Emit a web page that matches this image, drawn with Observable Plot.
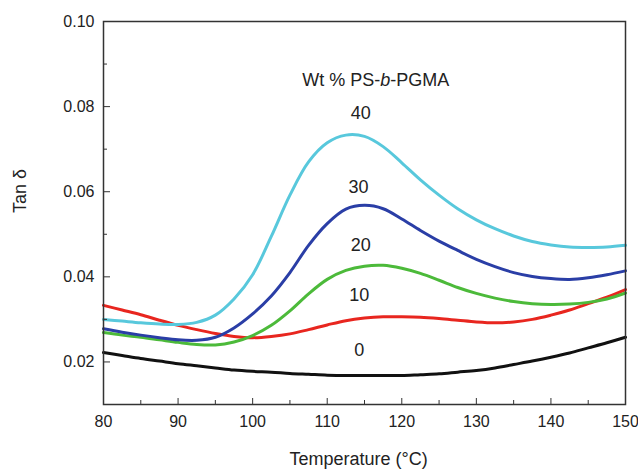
<!DOCTYPE html>
<html>
<head>
<meta charset="utf-8">
<script src="https://cdn.jsdelivr.net/npm/d3@7"></script>
<script src="https://cdn.jsdelivr.net/npm/@observablehq/plot@0.6"></script>
<style>
  html, body { margin: 0; padding: 0; background: #fff; }
  #chart { width: 638px; height: 469px; }
</style>
</head>
<body>
<div id="chart"></div>
<script>
// Temperature grid (°C)
const temps = [80, 82.5, 85, 87.5, 90, 92.5, 95, 97.5, 100, 102.5, 105, 107.5, 110, 112.5, 115, 117.5, 120, 122.5, 125, 127.5, 130, 132.5, 135, 137.5, 140, 142.5, 145, 147.5, 150];

// Tan δ for each wt% PS-b-PGMA
const tan0  = [0.0222, 0.0215, 0.0208, 0.0202, 0.0196, 0.0191, 0.0186, 0.0181, 0.0178, 0.0176, 0.0173, 0.0171, 0.0169, 0.0168, 0.0168, 0.0168, 0.0168, 0.0170, 0.0172, 0.0176, 0.0180, 0.0186, 0.0194, 0.0202, 0.0211, 0.0221, 0.0233, 0.0245, 0.0258];
const tan10 = [0.0333, 0.0322, 0.0311, 0.0298, 0.0286, 0.0276, 0.0267, 0.0260, 0.0257, 0.0260, 0.0266, 0.0276, 0.0287, 0.0297, 0.0303, 0.0306, 0.0306, 0.0305, 0.0302, 0.0298, 0.0294, 0.0292, 0.0294, 0.0300, 0.0310, 0.0322, 0.0337, 0.0352, 0.0370];
const tan20 = [0.0269, 0.0263, 0.0258, 0.0252, 0.0246, 0.0241, 0.0240, 0.0247, 0.0262, 0.0286, 0.0320, 0.0360, 0.0394, 0.0415, 0.0425, 0.0427, 0.0420, 0.0408, 0.0392, 0.0375, 0.0361, 0.0350, 0.0342, 0.0337, 0.0335, 0.0336, 0.0340, 0.0348, 0.0362];
const tan30 = [0.0278, 0.0270, 0.0263, 0.0257, 0.0252, 0.0251, 0.0258, 0.0280, 0.0313, 0.0355, 0.0410, 0.0474, 0.0525, 0.0559, 0.0568, 0.0560, 0.0536, 0.0509, 0.0484, 0.0462, 0.0441, 0.0424, 0.0410, 0.0401, 0.0396, 0.0394, 0.0398, 0.0405, 0.0414];
const tan40 = [0.0300, 0.0296, 0.0292, 0.0289, 0.0288, 0.0293, 0.0310, 0.0348, 0.0405, 0.0495, 0.0592, 0.0670, 0.0715, 0.0733, 0.0730, 0.0706, 0.0668, 0.0628, 0.0592, 0.0560, 0.0534, 0.0513, 0.0496, 0.0483, 0.0475, 0.0470, 0.0469, 0.0470, 0.0474];

const seriesNames = ["0", "10", "20", "30", "40"];
const seriesColors = ["#111111", "#e8261f", "#4cba3a", "#2a3ea6", "#58c8dc"];

// Curve labels placed on the chart (data coordinates)
const labelT = [114.3, 114.3, 114.5, 114.2, 114.5];
const labelV = [0.0227, 0.0356, 0.0474, 0.0610, 0.0784];
const legendTitle = "Wt % PS-b-PGMA";
const legendT = 116.5;
const legendV = 0.0862;

// Axis ticks
const xMajor = [80, 90, 100, 110, 120, 130, 140, 150];
const xMinor = [85, 95, 105, 115, 125, 135, 145];
const yMajor = [0.02, 0.04, 0.06, 0.08, 0.10];
const yMinor = [0.03, 0.05, 0.07, 0.09];

const xLabel = "Temperature (°C)";
const yLabel = "Tan δ";

const allSeries = [tan0, tan10, tan20, tan30, tan40];
const rows = [];
allSeries.forEach((vals, si) => {
  vals.forEach((v, i) => rows.push({T: temps[i], v, s: seriesNames[si]}));
});
const labels = seriesNames.map((s, i) => ({s, T: labelT[i], v: labelV[i]}));

const plot = Plot.plot({
  width: 638,
  height: 469,
  marginLeft: 103,
  marginRight: 13,
  marginTop: 21,
  marginBottom: 65,
  style: {fontFamily: "'Liberation Sans', Arial, sans-serif", fontSize: "16px", color: "#222", background: "#fff"},
  x: {domain: [80, 150]},
  y: {domain: [0.01, 0.10]},
  color: {domain: seriesNames, range: seriesColors},
  marks: [
    Plot.line(rows, {x: "T", y: "v", z: "s", stroke: "s", strokeWidth: 3, curve: "catmull-rom"}),
    Plot.frame({stroke: "#333", strokeWidth: 1.5}),
    Plot.axisX({ticks: xMajor, tickSize: -6, tickPadding: 17, tickFormat: d => d, label: null, stroke: "#333", fontSize: 16}),
    Plot.axisX({ticks: xMinor, tickSize: -4, fill: "none", label: null, stroke: "#333"}),
    Plot.axisY({ticks: yMajor, tickSize: -7, tickPadding: 16, tickFormat: d3.format(".2f"), label: null, stroke: "#333", fontSize: 16}),
    Plot.axisY({ticks: yMinor, tickSize: -4, fill: "none", label: null, stroke: "#333"}),
    Plot.text(labels, {x: "T", y: "v", text: "s", fontSize: 18, fill: "#222"}),
    Plot.text([legendTitle], {x: legendT, y: legendV, text: d => d, fontSize: 18, fill: "#222"}),
    Plot.text([xLabel], {frameAnchor: "bottom", dy: 55, dx: -6, lineAnchor: "middle", text: d => d, fontSize: 18, fill: "#222"}),
    Plot.text([yLabel], {frameAnchor: "left", dx: -83, rotate: -90, lineAnchor: "middle", text: d => d, fontSize: 18, fill: "#222"})
  ]
});

// italic "b" in the block-copolymer name
d3.select(plot).selectAll("text").filter(function () { return this.textContent === legendTitle; })
  .html('Wt % PS-<tspan font-style="italic">b</tspan>-PGMA');

document.getElementById("chart").appendChild(plot);
</script>
</body>
</html>
